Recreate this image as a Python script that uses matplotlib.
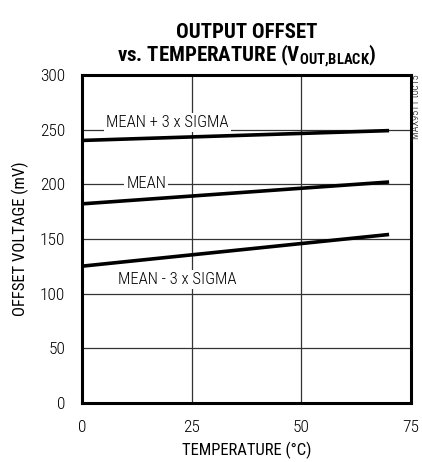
import matplotlib
matplotlib.use("Agg")
import matplotlib.pyplot as plt
from matplotlib import font_manager

# pick a narrow sans, like the datasheet font
names = {f.name for f in font_manager.fontManager.ttflist}
FONT = next((n for n in ["Roboto Condensed", "Archivo Narrow", "Liberation Sans Narrow",
                         "Barlow Condensed"] if n in names), "DejaVu Sans")
plt.rcParams['font.family'] = [FONT, 'DejaVu Sans']
plt.rcParams['font.weight'] = 'light'
plt.rcParams['mathtext.fontset'] = 'custom'
plt.rcParams['mathtext.rm'] = FONT
plt.rcParams['mathtext.bf'] = FONT + ':bold'

# data
temps = [0, 70]
mean_plus = [240, 249]
mean = [182, 202]
mean_minus = [125, 154]

labels = ["MEAN + 3 x SIGMA", "MEAN", "MEAN - 3 x SIGMA"]
label_pos = [(19.5, 256), (14.7, 201), (21.7, 113)]

fig = plt.figure(figsize=(4.22, 4.62), dpi=100)
ax = fig.add_axes([0.194, 0.128, 0.78, 0.71])

for ys in (mean_plus, mean, mean_minus):
    ax.plot(temps, ys, color='black', lw=2.6, solid_capstyle='butt', zorder=3)

for txt, (x, y) in zip(labels, label_pos):
    ax.text(x, y, txt, ha='center', va='center', fontsize=12,
            bbox=dict(facecolor='white', edgecolor='none', pad=1.5), zorder=2)

ax.set_xlim(0, 75)
ax.set_ylim(0, 300)
ax.set_xticks([0, 25, 50, 75])
ax.set_yticks([0, 50, 100, 150, 200, 250, 300])
ax.grid(True, color='#333333', lw=0.9)
ax.set_axisbelow(True)
ax.tick_params(length=0, labelsize=12.5, pad=12)
for s in ax.spines.values():
    s.set_linewidth(2.2)

ax.set_xlabel("TEMPERATURE (°C)", fontsize=12, labelpad=5)
ax.set_ylabel("OFFSET VOLTAGE (mV)", fontsize=12, labelpad=8)
ax.set_title("OUTPUT OFFSET\nvs. TEMPERATURE (V$_{\\mathbf{OUT{,}BLACK}}$)",
             fontsize=15, fontweight='bold', pad=10, linespacing=1.05)

fig.text(0.985, 0.838, "MAX9511 toc15", rotation=90, ha='center', va='top',
         fontsize=7.5)

fig.savefig("out.png", dpi=100)
